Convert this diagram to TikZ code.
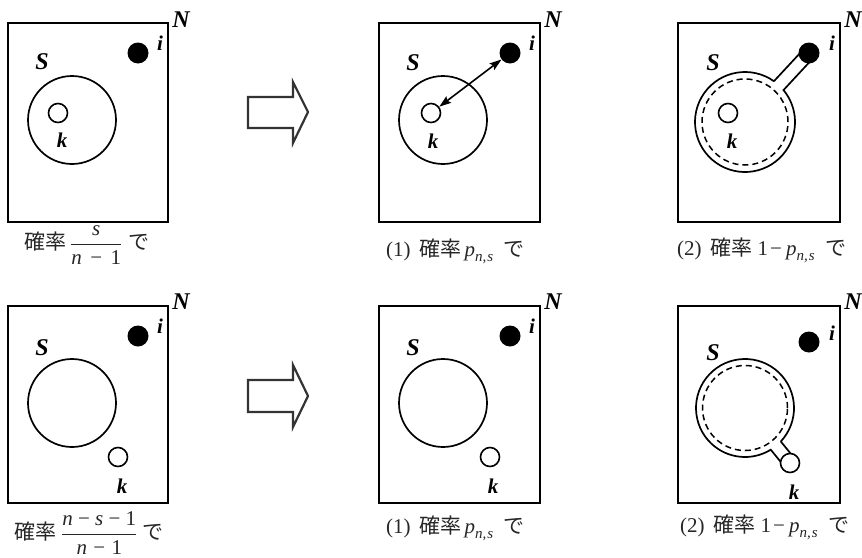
\documentclass[tikz,border=0pt]{standalone}
\usepackage{amsmath}
\usepackage{fontspec}
\setmainfont{Liberation Serif}
\newfontfamily\cjk{Noto Sans CJK JP}
\usetikzlibrary{calc,arrows.meta}
\newcommand\vi[1]{\text{\rmfamily\itshape #1}}
\newcommand\vr[1]{\text{\rmfamily #1}}
\newcommand\pns{$\vi{p}_{\text{\fontsize{15}{15}\selectfont\rmfamily\itshape n,\hspace{1pt}s}}$}
\begin{document}
\begin{tikzpicture}[x=1pt,y=-1pt,
  frame/.style={draw=black, line width=2.2pt},
  ring/.style={draw=black, line width=1.7pt},
  dashring/.style={draw=black, line width=1.5pt, dash pattern=on 6pt off 4pt},
  dot/.style={circle, fill=black, minimum size=21pt, inner sep=0pt},
  kcirc/.style={circle, draw=black, fill=white, line width=1.6pt, minimum size=19pt, inner sep=0pt},
  bigc/.style={circle, draw=black, line width=1.7pt, inner sep=0pt},
  bigN/.style={font=\fontsize{24}{28}\selectfont\bfseries\itshape, inner sep=0pt},
  smalll/.style={font=\fontsize{21}{25}\selectfont\bfseries\itshape, inner sep=0pt},
  capT/.style={font=\fontsize{21}{25}\selectfont\cjk, text=black!85, inner sep=0pt, anchor=west},
  blockarrow/.style={draw=black!80, line width=2.2pt, line join=miter},
  dbl/.style={line width=1.6pt, {Stealth[length=12pt,width=8pt,inset=2pt]}-{Stealth[length=12pt,width=8pt,inset=2pt]}}
]
\useasboundingbox (0,0) rectangle (862,557);

% ---------- frames ----------
\draw[frame] (8,23) rectangle (168,222);
\draw[frame] (379,23) rectangle (540,222);
\draw[frame] (678,23) rectangle (840,222);
\draw[frame] (8,306) rectangle (168,503);
\draw[frame] (379,306) rectangle (540,503);
\draw[frame] (678,306) rectangle (840,503);

% ---------- N labels ----------
\node[bigN] (N1) at (181,20) {N};
\node[bigN] (N2) at (553,20) {N};
\node[bigN] (N3) at (853,20) {N};
\node[bigN] (N4) at (181,302) {N};
\node[bigN] (N5) at (553,302) {N};
\node[bigN] (N6) at (853,302) {N};

% ---------- S labels ----------
\node[bigN] (S1) at (42,62) {S};
\node[bigN] (S2) at (413,63) {S};
\node[bigN] (S3) at (713,63) {S};
\node[bigN] (S4) at (42,348) {S};
\node[bigN] (S5) at (413,348) {S};
\node[bigN] (S6) at (713,353) {S};

% ---------- i labels ----------
\node[smalll] (il1) at (160,43) {i};
\node[smalll] (il2) at (532,43) {i};
\node[smalll] (il3) at (832,43) {i};
\node[smalll] (il4) at (160,326) {i};
\node[smalll] (il5) at (532,326) {i};
\node[smalll] (il6) at (832,333) {i};

% ---------- big circles S ----------
\node[bigc, minimum size=88pt] (C1) at (72,120) {};
\node[bigc, minimum size=88pt] (C2) at (443,120) {};
\node[bigc, minimum size=88pt] (C4) at (72,403) {};
\node[bigc, minimum size=88pt] (C5) at (443,403) {};

% ---------- top-right keyhole to i ----------
\coordinate (c3) at (745,122);
\coordinate (d3) at (809,53);
\draw[ring] let \p1=($(d3)-(c3)$), \n1={atan2(\y1,\x1)} in
  ($(c3)+(\n1+7.5:50pt)$) arc[start angle=\n1+7.5, end angle=\n1+352.5, radius=50pt]
  -- ($(d3)+(\n1-90:6.5pt)$)
  ($(c3)+(\n1+7.5:50pt)$) -- ($(d3)+(\n1+90:6.5pt)$);
\draw[dashring] (c3) circle[radius=43pt];

% ---------- bottom-right keyhole to k ----------
\coordinate (c6) at (745,408);
\coordinate (d6) at (790,463);
\draw[ring] let \p1=($(d6)-(c6)$), \n1={atan2(\y1,\x1)} in
  ($(c6)+(\n1+7.6:49pt)$) arc[start angle=\n1+7.6, end angle=\n1+352.4, radius=49pt]
  -- ($(d6)+(\n1-90:6.5pt)$)
  ($(c6)+(\n1+7.6:49pt)$) -- ($(d6)+(\n1+90:6.5pt)$);
\draw[dashring] (c6) circle[radius=42.5pt];

% ---------- dots i ----------
\node[dot] (i1) at (138,53) {};
\node[dot] (i2) at (510,53) {};
\node[dot] (i3) at (809,53) {};
\node[dot] (i4) at (138,336) {};
\node[dot] (i5) at (510,336) {};
\node[dot] (i6) at (809,342) {};

% ---------- k circles ----------
\node[kcirc] (k1) at (58,113) {};
\node[kcirc] (k2) at (431,113) {};
\node[kcirc] (k3) at (728,113) {};
\node[kcirc] (k4) at (118,457) {};
\node[kcirc] (k5) at (490,457) {};
\node[kcirc] (k6) at (790,463) {};

% ---------- k labels ----------
\node[smalll] (kl1) at (62,140) {k};
\node[smalll] (kl2) at (433,141) {k};
\node[smalll] (kl3) at (732,141) {k};
\node[smalll] (kl4) at (122,486) {k};
\node[smalll] (kl5) at (493,486) {k};
\node[smalll] (kl6) at (794,492) {k};

% ---------- double arrow ----------
\draw[dbl] (k2) -- (i2);

% ---------- block arrows ----------
\draw[blockarrow] (248,97) -- (293,97) -- (293,82) -- (308,112) -- (293,143) -- (293,128) -- (248,128) -- cycle;
\draw[blockarrow] (248,380) -- (293,380) -- (293,365) -- (308,396) -- (293,427) -- (293,412) -- (248,412) -- cycle;

% ---------- captions ----------
\node[capT] (cap1) at (24,245) {確率\hspace{4pt}$\dfrac{\vi{s}}{\vi{n}\vr{\hspace{.4em}−\hspace{.4em}1}}$\hspace{6pt}で};
\node[capT] (cap2) at (386,251) {{\rmfamily (1)}\hspace{9pt}確率\hspace{3pt}\pns\hspace{10pt}で};
\node[capT] (cap3) at (677,250) {{\rmfamily (2)}\hspace{9pt}確率\hspace{5pt}{\rmfamily 1\hspace{2pt}−\hspace{4pt}}\pns\hspace{10pt}で};
\node[capT] (cap4) at (14,533) {確率\hspace{5pt}$\dfrac{\vi{n}\vr{\hspace{.25em}−\hspace{.25em}}\vi{s}\vr{\hspace{.25em}−\hspace{.25em}1}}{\vi{n}\vr{\hspace{.3em}−\hspace{.3em}1}}$\hspace{5pt}で};
\node[capT] (cap5) at (386,528) {{\rmfamily (1)}\hspace{9pt}確率\hspace{3pt}\pns\hspace{10pt}で};
\node[capT] (cap6) at (680,527) {{\rmfamily (2)}\hspace{9pt}確率\hspace{5pt}{\rmfamily 1\hspace{2pt}−\hspace{4pt}}\pns\hspace{10pt}で};
\end{tikzpicture}
\end{document}
